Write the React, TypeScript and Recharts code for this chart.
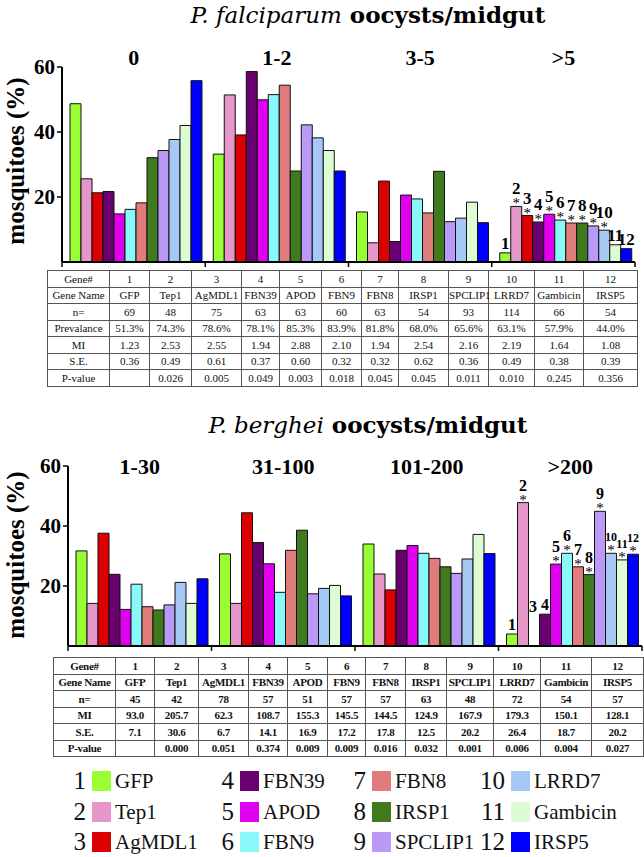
import React from "react";
import { BarChart, Bar, XAxis, YAxis, LabelList } from "recharts";

const FONT = '"Liberation Serif", "Times New Roman", serif';
const TITLE_FONT = '"DejaVu Serif", serif';

const genes = ["GFP", "Tep1", "AgMDL1", "FBN39", "APOD", "FBN9", "FBN8", "IRSP1", "SPCLIP1", "LRRD7", "Gambicin", "IRSP5"];
const geneColors = ["#99ff33", "#e697c9", "#dd0000", "#690070", "#e000f0", "#88f8f8", "#e07c7c", "#3f7a1c", "#bb99f7", "#a6c8f5", "#ddfcd3", "#0000ff"];

// P. falciparum: % mosquitoes per oocyst class, one value per gene
const pfCategories = ["0", "1-2", "3-5", ">5"];
const pfZero = [48.7, 25.6, 21.3, 21.7, 14.8, 16.2, 18.2, 32.1, 34.3, 37.7, 42.0, 55.8];
const pfOneTwo = [33.2, 51.4, 39.1, 58.6, 49.9, 51.5, 54.4, 28.0, 42.2, 38.2, 34.3, 28.0];
const pfThreeFive = [15.4, 5.9, 24.9, 6.3, 20.6, 19.4, 15.1, 27.9, 12.4, 13.5, 18.4, 12.1];
const pfOverFive = [2.8, 17.1, 14.3, 12.3, 14.7, 12.9, 12.0, 12.0, 11.1, 9.8, 5.3, 4.1];
const pfStars = [0, 1, 1, 1, 1, 1, 1, 1, 1, 1, 0, 0];

const pfN = ["69", "48", "75", "63", "63", "60", "63", "54", "93", "114", "66", "54"];
const pfPrevalence = ["51.3%", "74.3%", "78.6%", "78.1%", "85.3%", "83.9%", "81.8%", "68.0%", "65.6%", "63.1%", "57.9%", "44.0%"];
const pfMI = ["1.23", "2.53", "2.55", "1.94", "2.88", "2.10", "1.94", "2.54", "2.16", "2.19", "1.64", "1.08"];
const pfSE = ["0.36", "0.49", "0.61", "0.37", "0.60", "0.32", "0.32", "0.62", "0.36", "0.49", "0.38", "0.39"];
const pfP = ["", "0.026", "0.005", "0.049", "0.003", "0.018", "0.045", "0.045", "0.011", "0.010", "0.245", "0.356"];

// P. berghei
const pbCategories = ["1-30", "31-100", "101-200", ">200"];
const pbOneThirty = [31.7, 14.2, 37.6, 23.9, 12.2, 20.6, 13.1, 12.0, 13.7, 21.2, 14.2, 22.4];
const pbThirtyOne = [30.7, 14.2, 44.4, 34.5, 27.4, 17.9, 31.9, 38.6, 17.4, 19.2, 20.2, 16.7];
const pbOneHundred = [34.0, 24.0, 18.7, 31.9, 33.5, 30.9, 29.2, 26.4, 24.2, 29.0, 37.2, 30.8];
const pbOverTwoHundred = [4.0, 47.8, 0, 10.6, 27.3, 30.9, 26.4, 23.8, 44.9, 30.9, 28.7, 30.6];
const pbStars = [0, 1, 0, 0, 1, 1, 1, 1, 1, 1, 1, 1];

const pbN = ["45", "42", "78", "57", "51", "57", "57", "63", "48", "72", "54", "57"];
const pbMI = ["93.0", "205.7", "62.3", "108.7", "155.3", "145.5", "144.5", "124.9", "167.9", "179.3", "150.1", "128.1"];
const pbSE = ["7.1", "30.6", "6.7", "14.1", "16.9", "17.2", "17.8", "12.5", "20.2", "26.4", "18.7", "20.2"];
const pbP = ["", "0.000", "0.051", "0.374", "0.009", "0.009", "0.016", "0.032", "0.001", "0.006", "0.004", "0.027"];

const yTicks = [0, 20, 40, 60];

const buildRows = (cats: string[], values: number[][]) =>
  cats.map((c, ci) => {
    const row: any = { cat: c };
    genes.forEach((g, gi) => { row[g] = values[ci][gi]; });
    return row;
  });

// gene number (and * when significant) above the bars of the last class
const makeAnno = (gi: number, stars: number[], last: number[], smallTens: boolean) => (p: any) => {
  if (p.index !== 3) return null;
  const cx = p.x + p.width / 2;
  const top = p.y;
  const star = stars[gi] === 1;
  const fs = smallTens ? (gi >= 9 ? 12 : 16) : 17;
  // a gene with an empty bar gets its number drawn beside the next bar
  const prevEmpty = gi > 0 && last[gi - 1] === 0;
  return (
    <g>
      {prevEmpty && (
        <text x={cx - p.width - 1} y={top - 2} textAnchor="middle" fontSize={fs} fontWeight="bold" fontFamily={FONT} fill="#000">{gi}</text>
      )}
      {star && <text x={cx} y={top + 2} textAnchor="middle" fontSize={15} fontFamily={FONT} fill="#000">*</text>}
      <text x={cx} y={top - (star ? 12 : 4)} textAnchor="middle" fontSize={fs} fontWeight="bold" fontFamily={FONT} fill="#000">{gi + 1}</text>
    </g>
  );
};

const GroupTick = (baseline: number) => (p: any) => (
  <text x={p.x} y={baseline} textAnchor="middle" fontSize={22} fontWeight="bold" fontFamily={FONT} fill="#000">
    {p.payload.value}
  </text>
);

const BoundaryTick = (band: number) => (p: any) => (
  <g>
    <line x1={p.x - band / 2} x2={p.x - band / 2} y1={p.y} y2={p.y + 5} stroke="#000" strokeWidth={1.5} />
    {p.index === 3 && <line x1={p.x + band / 2} x2={p.x + band / 2} y1={p.y} y2={p.y + 5} stroke="#000" strokeWidth={1.5} />}
  </g>
);

const YTitle = ({ cy }: any) => (
  <text transform={`translate(24,${cy}) rotate(-90)`} textAnchor="middle" fontSize={25} fontWeight="bold" fontFamily={FONT} fill="#000">
    mosquitoes (%)
  </text>
);

interface PanelProps {
  rows: any[];
  stars: number[];
  last: number[];
  height: number;
  left: number;
  right: number;
  top: number;
  labelBaseline: number;
  titleY: number;
  smallTens: boolean;
}

const Panel = ({ rows, stars, last, height, left, right, top, labelBaseline, titleY, smallTens }: PanelProps) => {
  const band = (644 - left - 50 - right) / 4;
  return (
    <BarChart width={644} height={height} data={rows} margin={{ top, right, left, bottom: 0 }} barCategoryGap={8} barGap={0}>
      <XAxis xAxisId="t" dataKey="cat" orientation="top" height={30} axisLine={false} tickLine={false} tick={GroupTick(labelBaseline)} />
      <XAxis xAxisId="b" dataKey="cat" height={8} tickSize={0} tickMargin={0} axisLine={{ stroke: "#000", strokeWidth: 2 }} tick={BoundaryTick(band)} />
      <YAxis
        domain={[0, 60]}
        ticks={yTicks}
        width={50}
        tickSize={5}
        tickMargin={2}
        axisLine={{ stroke: "#000", strokeWidth: 2 }}
        tickLine={{ stroke: "#000", strokeWidth: 1.5 }}
        tick={{ fill: "#000", fontSize: 21, fontWeight: "bold", fontFamily: FONT }}
        label={<YTitle cy={titleY} />}
      />
      {genes.map((g, gi) => (
        <Bar key={g} xAxisId="b" dataKey={g} fill={geneColors[gi]} stroke="#111" strokeWidth={1} isAnimationActive={false}>
          <LabelList dataKey={g} content={makeAnno(gi, stars, last, smallTens)} />
        </Bar>
      ))}
    </BarChart>
  );
};

const StatTable = ({ x, y, rowH, widths, rows, bold }: any) => (
  <table
    style={{
      position: "absolute", left: x, top: y, borderCollapse: "collapse", tableLayout: "fixed",
      width: widths.reduce((a: number, b: number) => a + b, 0), fontFamily: FONT, fontSize: 11,
      fontWeight: bold ? "bold" : "normal", color: "#111", letterSpacing: bold ? -0.3 : 0,
    }}
  >
    <colgroup>
      {widths.map((w: number, i: number) => <col key={i} style={{ width: w }} />)}
    </colgroup>
    <tbody>
      {rows.map((r: string[], ri: number) => (
        <tr key={ri} style={{ height: rowH }}>
          {r.map((c, ci) => (
            <td key={ci} style={{ border: "1px solid #555", padding: 0, textAlign: "center", whiteSpace: "nowrap", lineHeight: `${rowH - 2}px` }}>{c}</td>
          ))}
        </tr>
      ))}
    </tbody>
  </table>
);

const Title = ({ y, species }: any) => (
  <div style={{ position: "absolute", left: 0, top: y, width: 644, paddingLeft: 92, boxSizing: "border-box", textAlign: "center", fontFamily: TITLE_FONT, fontSize: 23, color: "#000", lineHeight: "28px", whiteSpace: "nowrap" }}>
    <span style={{ fontStyle: "italic" }}>{species}</span>
    <span style={{ fontWeight: "bold" }}> oocysts/midgut</span>
  </div>
);

const geneNums = genes.map((_, i) => String(i + 1));

const legendNumX = [92, 240, 372, 511];
const legendRowY = [770, 801, 831];

export default function App() {
  const pfRows = buildRows(pfCategories, [pfZero, pfOneTwo, pfThreeFive, pfOverFive]);
  const pbRows = buildRows(pbCategories, [pbOneThirty, pbThirtyOne, pbOneHundred, pbOverTwoHundred]);

  const pfTable = [
    ["Gene#", ...geneNums],
    ["Gene Name", ...genes],
    ["n=", ...pfN],
    ["Prevalance", ...pfPrevalence],
    ["MI", ...pfMI],
    ["S.E.", ...pfSE],
    ["P-value", ...pfP],
  ];
  const pbTable = [
    ["Gene#", ...geneNums],
    ["Gene Name", ...genes],
    ["n=", ...pbN],
    ["MI", ...pbMI],
    ["S.E.", ...pbSE],
    ["P-value", ...pbP],
  ];

  return (
    <div style={{ position: "absolute", left: 0, top: 0, width: 644, height: 857, background: "#fff", overflow: "hidden" }}>
      <Title y={1} species="P. falciparum" />
      <div style={{ position: "absolute", left: 0, top: 0 }}>
        <Panel rows={pfRows} stars={pfStars} last={pfOverFive} height={270} left={12} right={9} top={37} labelBaseline={65} titleY={161} smallTens={false} />
      </div>
      <StatTable x={47} y={270} rowH={16.5} widths={[62, 40, 42, 50, 38, 42, 40, 37, 50, 40, 46, 49, 54]} rows={pfTable} bold={false} />

      <Title y={411} species="P. berghei" />
      <div style={{ position: "absolute", left: 0, top: 400 }}>
        <Panel rows={pbRows} stars={pbStars} last={pbOverTwoHundred} height={254} left={18} right={2} top={36} labelBaseline={74} titleY={155} smallTens={true} />
      </div>
      <StatTable x={53} y={657} rowH={16.5} widths={[62, 39, 44, 50, 39, 40, 38, 40, 41, 47, 47, 51, 52]} rows={pbTable} bold={true} />

      {genes.map((g, gi) => {
        const col = Math.floor(gi / 3);
        const row = gi % 3;
        const nx = legendNumX[col];
        const y = legendRowY[row];
        return (
          <div key={g} style={{ position: "absolute", left: nx - 40, top: y, height: 22, display: "flex", alignItems: "center", fontFamily: FONT, color: "#111" }}>
            <span style={{ width: 40, textAlign: "right", paddingRight: 6, boxSizing: "border-box", fontSize: 25 }}>{gi + 1}</span>
            <span style={{ width: 19, height: 20, background: geneColors[gi], marginRight: 4, flexShrink: 0 }} />
            <span style={{ fontSize: 21 }}>{g}</span>
          </div>
        );
      })}
    </div>
  );
}
